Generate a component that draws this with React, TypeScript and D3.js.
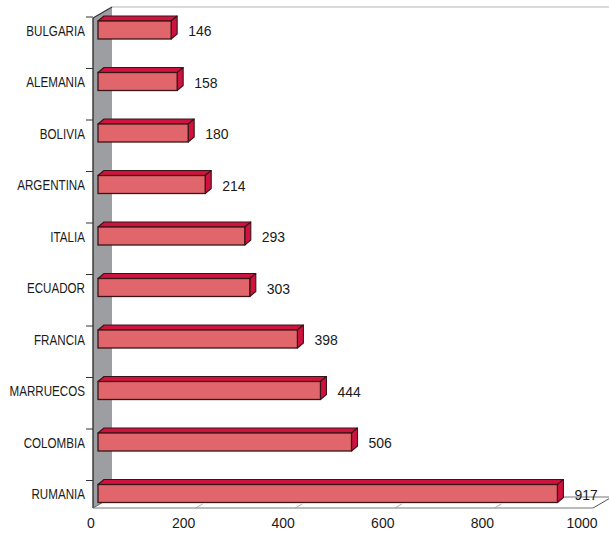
import React from "react";
import * as d3 from "d3";

const categories = ["BULGARIA", "ALEMANIA", "BOLIVIA", "ARGENTINA", "ITALIA", "ECUADOR", "FRANCIA", "MARRUECOS", "COLOMBIA", "RUMANIA"];
const values = [146, 158, 180, 214, 293, 303, 398, 444, 506, 917];
const axisTicks = [0, 200, 400, 600, 800, 1000];

const W = 609;
const H = 548;

export default function App() {
  const y = d3.scaleBand<string>().domain(categories).range([17, 532]).paddingInner(0).paddingOuter(0);
  const xBar = d3.scaleLinear().domain([0, 1000]).range([98, 599]);
  const xAxis = d3.scaleLinear().domain([0, 1000]).range([84, 582]);

  const dx = 6;
  const dy = 5;
  const frontFill = "#e0666b";
  const topFill = "#d0123f";
  const edge = "#3a1518";
  const wallX0 = 93;
  const wallX1 = 112;
  const wallTop = 18;
  const wallTopBack = 7;
  const floorY = 508;
  const floorBackY = 497;
  const floorRight = xAxis(1000) + 11;

  const font = "'Liberation Sans', Arial, sans-serif";
  const labelX = 85;
  const sx = 0.83;

  return (
    <svg width={W} height={H} style={{ position: "absolute", left: 0, top: 0, background: "#fff" }}>
      <line x1={wallX1} y1={wallTopBack} x2={W} y2={wallTopBack} stroke="#b5b5b5" strokeWidth={1} />
      <polygon
        points={`${wallX0},${floorY} ${floorRight},${floorY} ${floorRight + 19},${floorBackY} ${wallX1},${floorBackY}`}
        fill="#fff"
        stroke="none"
      />
      <line x1={wallX1} y1={floorBackY} x2={W} y2={floorBackY} stroke="#777" strokeWidth={1} />
      <line x1={wallX0} y1={floorY} x2={floorRight} y2={floorY} stroke="#777" strokeWidth={1} />
      <line x1={floorRight} y1={floorY} x2={floorRight + 19} y2={floorBackY} stroke="#555" strokeWidth={1} />
      {axisTicks.slice(1, 5).map((t) => (
        <line key={"g" + t} x1={xAxis(t) + 12} y1={floorY} x2={xAxis(t) + 19} y2={floorY - 4} stroke="#999" strokeWidth={0.8} />
      ))}
      <polygon
        points={`${wallX0},${wallTop} ${wallX1},${wallTopBack} ${wallX1},${floorBackY} ${wallX0},${floorY}`}
        fill="#9d9ea1"
        stroke="none"
      />
      <line x1={wallX0} y1={wallTop} x2={wallX1} y2={wallTopBack} stroke="#333" strokeWidth={1.2} />
      <line x1={wallX0} y1={wallTop} x2={wallX0} y2={floorY} stroke="#333" strokeWidth={1.4} />
      <line x1={wallX0} y1={floorY} x2={wallX1} y2={floorBackY} stroke="#666" strokeWidth={1} />
      {categories.map((c) => (
        <line key={"t" + c} x1={86} y1={y(c)!} x2={wallX0} y2={y(c)!} stroke="#333" strokeWidth={1} />
      ))}
      {categories.map((c, i) => {
        const y0 = y(c)! + 4;
        const y1 = y(c)! + 22;
        const x0 = xBar(0);
        const x1 = xBar(values[i]);
        return (
          <g key={c}>
            <polygon
              points={`${x0},${y0} ${x0 + dx},${y0 - dy} ${x1 + dx},${y0 - dy} ${x1},${y0}`}
              fill={topFill}
              stroke={edge}
              strokeWidth={1.1}
              strokeLinejoin="round"
            />
            <polygon
              points={`${x1},${y0} ${x1 + dx},${y0 - dy} ${x1 + dx},${y1 - dy} ${x1},${y1}`}
              fill={topFill}
              stroke={edge}
              strokeWidth={1.1}
              strokeLinejoin="round"
            />
            <rect x={x0} y={y0} width={x1 - x0} height={y1 - y0} fill={frontFill} stroke={edge} strokeWidth={1.3} />
            <text x={x1 + dx + 11} y={y(c)! + 19} fontFamily={font} fontSize={14} fill="#1a1a1a">
              {values[i]}
            </text>
            <g transform={`translate(${labelX},0) scale(${sx},1)`}>
              <text x={0} y={y(c)! + 19} textAnchor="end" fontFamily={font} fontSize={14} fill="#1a1a1a">
                {c}
              </text>
            </g>
          </g>
        );
      })}
      {axisTicks.map((t) => (
        <text
          key={"a" + t}
          x={t === 0 ? xAxis(t) + 3 : xAxis(t)}
          y={528}
          textAnchor={t === 0 ? "start" : "middle"}
          fontFamily={font}
          fontSize={14}
          fill="#1a1a1a"
        >
          {t}
        </text>
      ))}
    </svg>
  );
}
